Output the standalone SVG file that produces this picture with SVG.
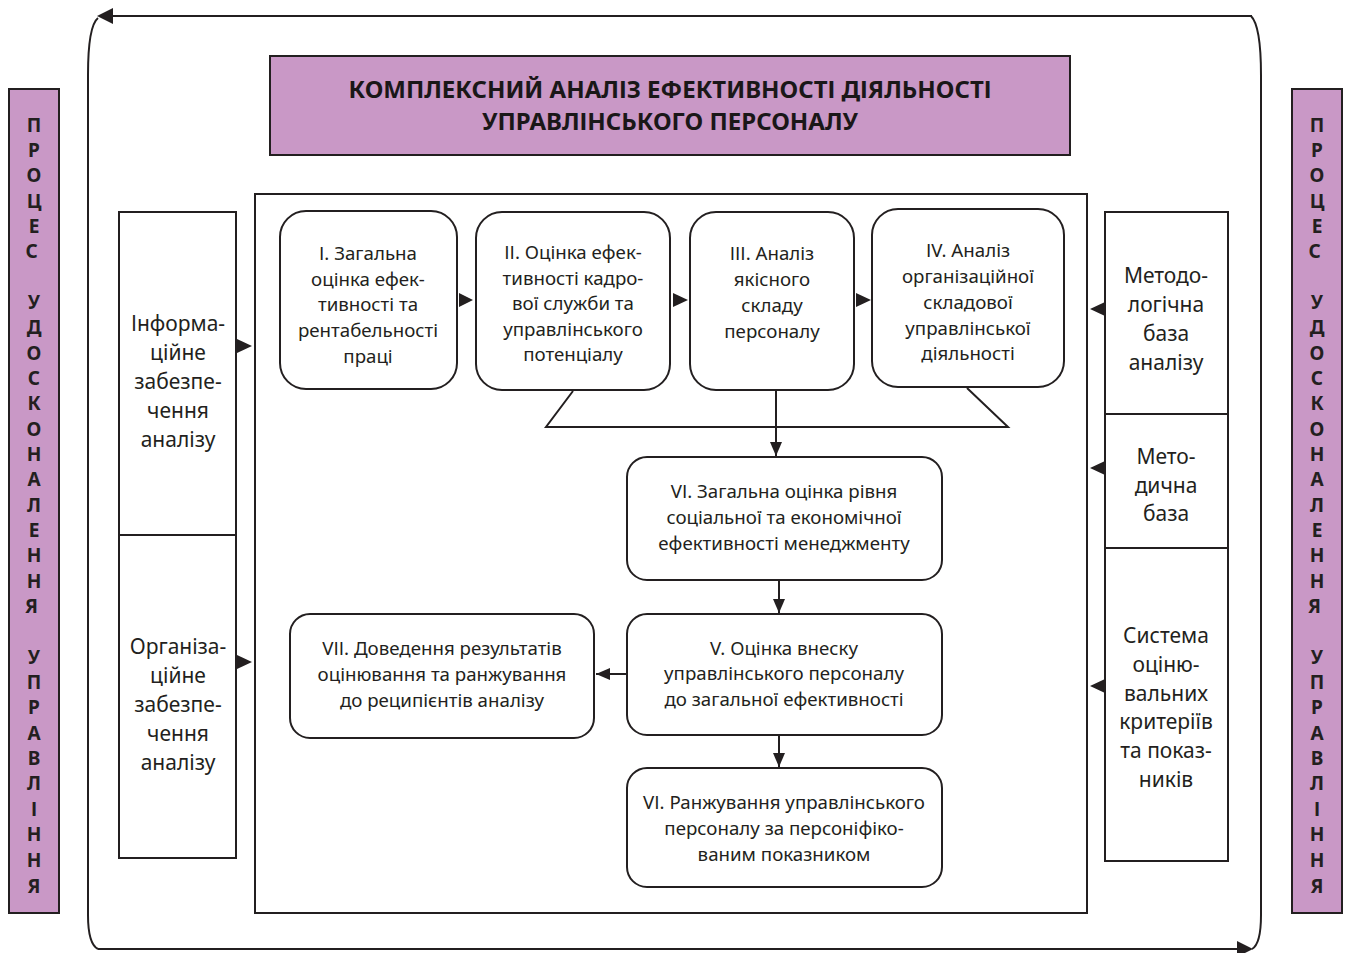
<svg xmlns="http://www.w3.org/2000/svg" width="1350" height="953" viewBox="0 0 1350 953">
<defs>
<style>
.ln{fill:none;stroke:#231f20;stroke-width:2}
.box{fill:#fff;stroke:#231f20;stroke-width:2}
.pur{fill:#c998c6;stroke:#231f20;stroke-width:2}
.ah{fill:#231f20;stroke:none}
.t{font-family:"Noto Sans","Open Sans","Liberation Sans",sans-serif;fill:#231f20;text-anchor:middle}
.s{font-size:18.7px}
.m{font-size:21px}
.ttl{font-size:24px;font-weight:bold;fill:#1a1718}
.v{font-size:19px;font-weight:bold}
</style>
<marker id="arr" viewBox="0 0 14 12" refX="14" refY="6" markerWidth="14" markerHeight="12" markerUnits="userSpaceOnUse" orient="auto">
<path d="M0,0 L14,6 L0,12 Z" fill="#231f20"/>
</marker>
</defs>
<rect width="1350" height="953" fill="#fff"/>

<g id="title">
<rect class="pur" x="270" y="56" width="800" height="99"/>
<text class="t ttl" x="670" y="98">КОМПЛЕКСНИЙ АНАЛІЗ ЕФЕКТИВНОСТІ ДІЯЛЬНОСТІ</text>
<text class="t ttl" x="670" y="130">УПРАВЛІНСЬКОГО ПЕРСОНАЛУ</text>
</g>

<g id="left-bar">
<rect class="pur" x="9" y="89" width="50" height="824"/>
<text class="t v" x="34">
<tspan x="34" y="132">П</tspan><tspan x="34" y="157">Р</tspan><tspan x="34" y="182">О</tspan><tspan x="34" y="208">Ц</tspan><tspan x="34" y="233">Е</tspan><tspan x="34" y="258">С</tspan>
<tspan x="34" y="309">У</tspan><tspan x="34" y="334">Д</tspan><tspan x="34" y="360">О</tspan><tspan x="34" y="385">С</tspan><tspan x="34" y="410">К</tspan><tspan x="34" y="436">О</tspan><tspan x="34" y="461">Н</tspan><tspan x="34" y="486">А</tspan><tspan x="34" y="512">Л</tspan><tspan x="34" y="537">Е</tspan><tspan x="34" y="562">Н</tspan><tspan x="34" y="588">Н</tspan><tspan x="34" y="613">Я</tspan>
<tspan x="34" y="664">У</tspan><tspan x="34" y="689">П</tspan><tspan x="34" y="714">Р</tspan><tspan x="34" y="740">А</tspan><tspan x="34" y="765">В</tspan><tspan x="34" y="790">Л</tspan><tspan x="34" y="816">І</tspan><tspan x="34" y="841">Н</tspan><tspan x="34" y="867">Н</tspan><tspan x="34" y="893">Я</tspan>
</text>
</g>

<g id="right-bar">
<rect class="pur" x="1292" y="89" width="50" height="824"/>
<text class="t v" x="1317">
<tspan x="1317" y="132">П</tspan><tspan x="1317" y="157">Р</tspan><tspan x="1317" y="182">О</tspan><tspan x="1317" y="208">Ц</tspan><tspan x="1317" y="233">Е</tspan><tspan x="1317" y="258">С</tspan>
<tspan x="1317" y="309">У</tspan><tspan x="1317" y="334">Д</tspan><tspan x="1317" y="360">О</tspan><tspan x="1317" y="385">С</tspan><tspan x="1317" y="410">К</tspan><tspan x="1317" y="436">О</tspan><tspan x="1317" y="461">Н</tspan><tspan x="1317" y="486">А</tspan><tspan x="1317" y="512">Л</tspan><tspan x="1317" y="537">Е</tspan><tspan x="1317" y="562">Н</tspan><tspan x="1317" y="588">Н</tspan><tspan x="1317" y="613">Я</tspan>
<tspan x="1317" y="664">У</tspan><tspan x="1317" y="689">П</tspan><tspan x="1317" y="714">Р</tspan><tspan x="1317" y="740">А</tspan><tspan x="1317" y="765">В</tspan><tspan x="1317" y="790">Л</tspan><tspan x="1317" y="816">І</tspan><tspan x="1317" y="841">Н</tspan><tspan x="1317" y="867">Н</tspan><tspan x="1317" y="893">Я</tspan>
</text>
</g>

<g id="main-frame">
<rect class="box" x="255" y="194" width="832" height="719"/>
</g>

<g id="info">
<rect class="box" x="119" y="212" width="117" height="323"/>
<text class="t m"><tspan x="178" y="331">Інформа-</tspan><tspan x="178" y="360">ційне</tspan><tspan x="178" y="389">забезпе-</tspan><tspan x="178" y="418">чення</tspan><tspan x="178" y="447">аналізу</tspan></text>
</g>
<g id="org">
<rect class="box" x="119" y="535" width="117" height="323"/>
<text class="t m"><tspan x="178" y="654">Організа-</tspan><tspan x="178" y="683">ційне</tspan><tspan x="178" y="712">забезпе-</tspan><tspan x="178" y="741">чення</tspan><tspan x="178" y="770">аналізу</tspan></text>
</g>

<g id="method1">
<rect class="box" x="1105" y="212" width="123" height="202"/>
<text class="t m"><tspan x="1166" y="283">Методо-</tspan><tspan x="1166" y="312">логічна</tspan><tspan x="1166" y="341">база</tspan><tspan x="1166" y="370">аналізу</tspan></text>
</g>
<g id="method2">
<rect class="box" x="1105" y="414" width="123" height="134"/>
<text class="t m"><tspan x="1166" y="464">Мето-</tspan><tspan x="1166" y="493">дична</tspan><tspan x="1166" y="521">база</tspan></text>
</g>
<g id="criteria">
<rect class="box" x="1105" y="548" width="123" height="313"/>
<text class="t m"><tspan x="1166" y="643">Система</tspan><tspan x="1166" y="672">оціню-</tspan><tspan x="1166" y="701">вальних</tspan><tspan x="1166" y="729">критеріїв</tspan><tspan x="1166" y="758">та показ-</tspan><tspan x="1166" y="787">ників</tspan></text>
</g>

<g id="n1">
<rect class="box" x="280" y="211" width="177" height="178" rx="26"/>
<text class="t s"><tspan x="368" y="260">І. Загальна</tspan><tspan x="368" y="286">оцінка ефек-</tspan><tspan x="368" y="311">тивності та</tspan><tspan x="368" y="337">рентабельності</tspan><tspan x="368" y="363">праці</tspan></text>
</g>
<g id="n2">
<rect class="box" x="476" y="212" width="194" height="178" rx="26"/>
<text class="t s"><tspan x="573" y="259">ІІ. Оцінка ефек-</tspan><tspan x="573" y="285">тивності кадро-</tspan><tspan x="573" y="310">вої служби та</tspan><tspan x="573" y="336">управлінського</tspan><tspan x="573" y="361">потенціалу</tspan></text>
</g>
<g id="n3">
<rect class="box" x="690" y="212" width="164" height="178" rx="26"/>
<text class="t s"><tspan x="772" y="260">ІІІ. Аналіз</tspan><tspan x="772" y="286">якісного</tspan><tspan x="772" y="312">складу</tspan><tspan x="772" y="338">персоналу</tspan></text>
</g>
<g id="n4">
<rect class="box" x="872" y="209" width="192" height="178" rx="26"/>
<text class="t s"><tspan x="968" y="257">ІV. Аналіз</tspan><tspan x="968" y="283">організаційної</tspan><tspan x="968" y="309">складової</tspan><tspan x="968" y="335">управлінської</tspan><tspan x="968" y="360">діяльності</tspan></text>
</g>
<g id="n6">
<rect class="box" x="627" y="457" width="315" height="123" rx="20"/>
<text class="t s"><tspan x="784" y="498">VІ. Загальна оцінка рівня</tspan><tspan x="784" y="524">соціальної та економічної</tspan><tspan x="784" y="550">ефективності менеджменту</tspan></text>
</g>
<g id="n5">
<rect class="box" x="627" y="614" width="315" height="121" rx="20"/>
<text class="t s"><tspan x="784" y="655">V. Оцінка внеску</tspan><tspan x="784" y="680">управлінського персоналу</tspan><tspan x="784" y="706">до загальної ефективності</tspan></text>
</g>
<g id="n7">
<rect class="box" x="290" y="614" width="304" height="124" rx="20"/>
<text class="t s"><tspan x="442" y="655">VІІ. Доведення результатів</tspan><tspan x="442" y="681">оцінювання та ранжування</tspan><tspan x="442" y="707">до реципієнтів аналізу</tspan></text>
</g>
<g id="n6b">
<rect class="box" x="627" y="768" width="315" height="119" rx="20"/>
<text class="t s"><tspan x="784" y="809">VІ. Ранжування управлінського</tspan><tspan x="784" y="835">персоналу за персоніфіко-</tspan><tspan x="784" y="861">ваним показником</tspan></text>
</g>

<g id="connectors">
<path class="ln" d="M1252,16 L112,16"/>
<path class="ah" d="M97,16 L113,8 L113,24 Z"/>
<path class="ln" d="M98,18 Q88,26 88,75 L88,915 Q88,944 98,949"/>
<path class="ln" d="M98,949 L1237,949"/>
<path class="ah" d="M1253,949 L1237,941 L1237,957 Z"/>
<path class="ln" d="M1251,16 Q1261,26 1261,75 L1261,915 Q1261,944 1252,949"/>
<path class="ah" d="M252,346 L237,339 L237,353 Z"/>
<path class="ah" d="M252,662 L237,655 L237,669 Z"/>
<path class="ah" d="M1090,309 L1105,302 L1105,316 Z"/>
<path class="ah" d="M1090,468 L1105,461 L1105,475 Z"/>
<path class="ah" d="M1090,686 L1105,679 L1105,693 Z"/>
<path class="ah" d="M473,300 L459,293 L459,307 Z"/>
<path class="ah" d="M688,300 L673,293 L673,307 Z"/>
<path class="ah" d="M871,300 L856,293 L856,307 Z"/>
<path class="ln" d="M573,391 L546,427 L1008,427 L967,388"/>
<path class="ln" d="M776,390 L776,456" marker-end="url(#arr)"/>
<path class="ln" d="M779,580 L779,613" marker-end="url(#arr)"/>
<path class="ln" d="M627,674 L596,674" marker-end="url(#arr)"/>
<path class="ln" d="M779,735 L779,767" marker-end="url(#arr)"/>
</g>
</svg>
